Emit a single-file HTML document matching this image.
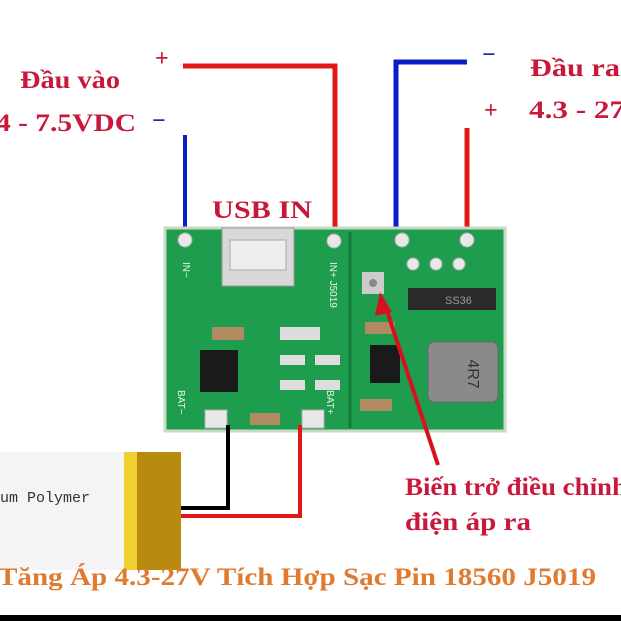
<!DOCTYPE html>
<html><head><meta charset="utf-8"><style>
html,body{margin:0;padding:0;background:#fff;}
svg{display:block}
.t{font-family:"Liberation Serif",serif;font-weight:bold;fill:#c8183c;}
.s{font-family:"Liberation Sans",sans-serif;fill:#e8f5e8;font-size:10px;}
</style></head><body>
<svg width="621" height="621" viewBox="0 0 621 621" xmlns="http://www.w3.org/2000/svg">
<rect width="621" height="621" fill="#fff"/>
<polyline points="183,66 335,66 335,230" fill="none" stroke="#e01818" stroke-width="5"/>
<line x1="185" y1="135" x2="185" y2="230" stroke="#0a1ec8" stroke-width="4"/>
<polyline points="467,62 396,62 396,230" fill="none" stroke="#0a1ec8" stroke-width="5"/>
<line x1="467" y1="128" x2="467" y2="230" stroke="#e01818" stroke-width="5"/>
<text class="t" x="20" y="88" font-size="25" textLength="100" lengthAdjust="spacingAndGlyphs">Đầu vào</text>
<text class="t" x="-4" y="131" font-size="25" textLength="140" lengthAdjust="spacingAndGlyphs">4 - 7.5VDC</text>
<text class="t" x="155" y="66" font-size="24">+</text>
<text class="t" x="152" y="128" font-size="24" style="fill:#1a2a9a">−</text>
<text class="t" x="482" y="62" font-size="24" style="fill:#1a2a9a">−</text>
<text class="t" x="484" y="118" font-size="24">+</text>
<text class="t" x="530" y="76" font-size="25" textLength="90" lengthAdjust="spacingAndGlyphs">Đầu ra</text>
<text class="t" x="529" y="118" font-size="25" textLength="96" lengthAdjust="spacingAndGlyphs">4.3 - 27</text>
<text class="t" x="212" y="218" font-size="25" textLength="100" lengthAdjust="spacingAndGlyphs">USB IN</text>
<rect x="165" y="228" width="340" height="203" fill="#1f9d4f"/>
<rect x="165" y="228" width="340" height="203" fill="none" stroke="#c9d9c6" stroke-width="3"/>
<line x1="350" y1="232" x2="350" y2="428" stroke="#127a38" stroke-width="3"/>
<g fill="#e8e8e8" stroke="#b0b0b0">
<circle cx="185" cy="240" r="7"/><circle cx="334" cy="241" r="7"/>
<circle cx="402" cy="240" r="7"/><circle cx="467" cy="240" r="7"/>
<circle cx="413" cy="264" r="6"/><circle cx="436" cy="264" r="6"/><circle cx="459" cy="264" r="6"/>
<rect x="205" y="410" width="22" height="18"/><rect x="302" y="410" width="22" height="18"/>
</g>
<rect x="222" y="228" width="72" height="58" fill="#d8d8d8" stroke="#999"/>
<rect x="230" y="240" width="56" height="30" fill="#eee" stroke="#aaa"/>
<rect x="200" y="350" width="38" height="42" fill="#1a1a1a"/>
<rect x="370" y="345" width="30" height="38" fill="#1a1a1a"/>
<rect x="408" y="288" width="88" height="22" fill="#2a2a2a"/>
<text x="445" y="304" font-family="Liberation Sans" font-size="11" fill="#999">SS36</text>
<rect x="428" y="342" width="70" height="60" rx="6" fill="#8a8a8a" stroke="#666"/>
<text x="470" y="372" font-family="Liberation Sans" font-size="16" fill="#333" transform="rotate(90 468 372)" text-anchor="middle">4R7</text>
<rect x="362" y="272" width="22" height="22" fill="#ccc"/>
<circle cx="373" cy="283" r="4" fill="#888"/>
<g fill="#b08a60"><rect x="212" y="327" width="32" height="13"/><rect x="250" y="413" width="30" height="12"/><rect x="365" y="322" width="30" height="12"/><rect x="360" y="399" width="32" height="12"/></g>
<g fill="#ddd"><rect x="280" y="327" width="40" height="13"/><rect x="280" y="355" width="25" height="10"/><rect x="315" y="355" width="25" height="10"/><rect x="280" y="380" width="25" height="10"/><rect x="315" y="380" width="25" height="10"/></g>
<text class="s" x="183" y="262" transform="rotate(90 183 262)">IN−</text>
<text class="s" x="330" y="262" transform="rotate(90 330 262)">IN+ J5019</text>
<text class="s" x="178" y="390" transform="rotate(90 178 390)">BAT−</text>
<text class="s" x="327" y="390" transform="rotate(90 327 390)">BAT+</text>
<line x1="438" y1="465" x2="385" y2="305" stroke="#d81020" stroke-width="4"/>
<polygon points="380,292 375,316 392,312" fill="#d81020"/>
<polyline points="228,425 228,508 180,508" fill="none" stroke="#000" stroke-width="4"/>
<polyline points="300,425 300,516 180,516" fill="none" stroke="#e01818" stroke-width="4"/>
<rect x="0" y="452" width="124" height="118" fill="#f4f4f4"/>
<rect x="124" y="452" width="13" height="118" fill="#f0d030"/>
<rect x="137" y="452" width="44" height="118" fill="#b88a10"/>
<text x="0" y="502" font-family="Liberation Mono" font-size="15" fill="#333">um Polymer</text>
<text class="t" x="405" y="495" font-size="25" textLength="222" lengthAdjust="spacingAndGlyphs">Biến trở điều chỉnh</text>
<text class="t" x="405" y="530" font-size="25" textLength="126" lengthAdjust="spacingAndGlyphs">điện áp ra</text>
<text x="-2" y="585" font-family="Liberation Serif" font-weight="bold" font-size="25" fill="#e07a30" textLength="598" lengthAdjust="spacingAndGlyphs">Tăng Áp 4.3-27V Tích Hợp Sạc Pin 18560 J5019</text>
<rect x="0" y="615" width="621" height="6" fill="#000"/>
</svg>
</body></html>
